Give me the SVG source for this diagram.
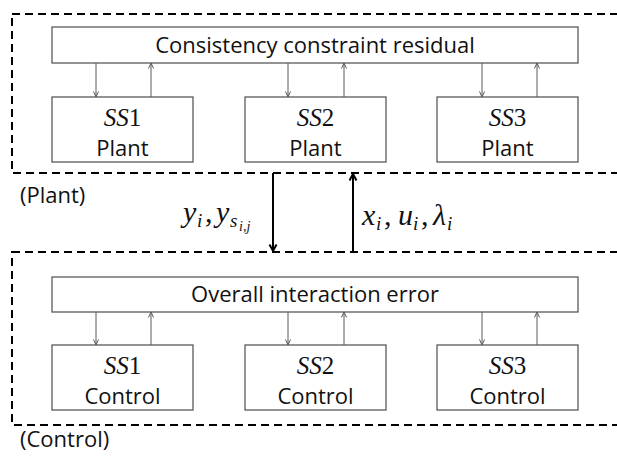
<svg xmlns="http://www.w3.org/2000/svg" width="617" height="457" viewBox="0 0 617 457">
<style>
.region{fill:none;stroke:#000;stroke-width:2;stroke-dasharray:8 5}
.box{fill:#fff;stroke:#5a5a5a;stroke-width:1.3}
.lbl{font-family:"Open Sans","Liberation Sans",sans-serif;font-size:22px;fill:#111;text-anchor:middle}
.side{font-family:"Open Sans","Liberation Sans",sans-serif;font-size:22px;fill:#111}
.ss{font-family:"Liberation Serif",serif;font-size:25px;fill:#111;text-anchor:middle}
.math{font-family:"Liberation Serif",serif;font-size:30px;font-style:italic;fill:#111}
.sub{font-size:19px}
.sub2{font-size:14px}
.thin{stroke:#5a5a5a;stroke-width:1;fill:none;marker-end:url(#ah)}
.bold{stroke:#000;stroke-width:2;fill:none;marker-end:url(#ahb)}
</style>
<defs>
<marker id="ah" markerWidth="8" markerHeight="8" refX="6" refY="3" orient="auto" markerUnits="userSpaceOnUse">
<path d="M0.5,0.5 L6,3 L0.5,5.5" fill="none" stroke="#5a5a5a" stroke-width="1"/>
</marker>
<marker id="ahb" markerWidth="10" markerHeight="10" refX="7.5" refY="4.5" orient="auto" markerUnits="userSpaceOnUse">
<path d="M1,1 L7.5,4.5 L1,8" fill="none" stroke="#000" stroke-width="2"/>
</marker>
</defs>

<g id="plant-region">
<rect class="region" x="12" y="14" width="640" height="159"/>
<text class="side" x="20" y="203">(Plant)</text>
</g>
<g id="control-region">
<rect class="region" x="12" y="252" width="640" height="173"/>
<text class="side" x="20" y="447">(Control)</text>
</g>

<g id="consistency">
<rect class="box" x="52" y="27" width="526" height="36"/>
<text class="lbl" x="315" y="53">Consistency constraint residual</text>
</g>
<g id="ss1-plant">
<rect class="box" x="52" y="97" width="141" height="65"/>
<text class="ss" x="122.5" y="126"><tspan font-style="italic">SS</tspan>1</text>
<text class="lbl" x="122.5" y="156">Plant</text>
</g>
<g id="ss2-plant">
<rect class="box" x="245" y="97" width="141" height="65"/>
<text class="ss" x="315.5" y="126"><tspan font-style="italic">SS</tspan>2</text>
<text class="lbl" x="315.5" y="156">Plant</text>
</g>
<g id="ss3-plant">
<rect class="box" x="437" y="97" width="141" height="65"/>
<text class="ss" x="507.5" y="126"><tspan font-style="italic">SS</tspan>3</text>
<text class="lbl" x="507.5" y="156">Plant</text>
</g>

<g id="interaction">
<rect class="box" x="52" y="277" width="526" height="35"/>
<text class="lbl" x="315" y="302">Overall interaction error</text>
</g>
<g id="ss1-control">
<rect class="box" x="52" y="345" width="141" height="65"/>
<text class="ss" x="122.5" y="374"><tspan font-style="italic">SS</tspan>1</text>
<text class="lbl" x="122.5" y="404">Control</text>
</g>
<g id="ss2-control">
<rect class="box" x="245" y="345" width="141" height="65"/>
<text class="ss" x="315.5" y="374"><tspan font-style="italic">SS</tspan>2</text>
<text class="lbl" x="315.5" y="404">Control</text>
</g>
<g id="ss3-control">
<rect class="box" x="437" y="345" width="141" height="65"/>
<text class="ss" x="507.5" y="374"><tspan font-style="italic">SS</tspan>3</text>
<text class="lbl" x="507.5" y="404">Control</text>
</g>

<g id="connectors">
<line class="thin" x1="96" y1="63" x2="96" y2="97"/>
<line class="thin" x1="151" y1="97" x2="151" y2="63"/>
<line class="thin" x1="288" y1="63" x2="288" y2="97"/>
<line class="thin" x1="344" y1="97" x2="344" y2="63"/>
<line class="thin" x1="482" y1="63" x2="482" y2="97"/>
<line class="thin" x1="537" y1="97" x2="537" y2="63"/>

<line class="thin" x1="96" y1="312" x2="96" y2="345"/>
<line class="thin" x1="151" y1="345" x2="151" y2="312"/>
<line class="thin" x1="288" y1="312" x2="288" y2="345"/>
<line class="thin" x1="344" y1="345" x2="344" y2="312"/>
<line class="thin" x1="482" y1="312" x2="482" y2="345"/>
<line class="thin" x1="537" y1="345" x2="537" y2="312"/>

<line class="bold" x1="273" y1="173" x2="273" y2="251"/>
<line class="bold" x1="353" y1="252" x2="353" y2="174"/>
</g>

<g id="labels">
<text class="math" y="222"><tspan x="183">y</tspan><tspan class="sub" x="197" dy="5">i</tspan><tspan x="205" dy="-5" font-style="normal">,</tspan><tspan x="216">y</tspan><tspan class="sub" x="230" dy="5">s</tspan><tspan class="sub2" x="239" dy="4">i,j</tspan></text>
<text class="math" y="225"><tspan x="362">x</tspan><tspan class="sub" x="376" dy="5">i</tspan><tspan x="384" dy="-5" font-style="normal">,</tspan><tspan x="398">u</tspan><tspan class="sub" x="413" dy="5">i</tspan><tspan x="421" dy="-5" font-style="normal">,</tspan><tspan x="433">λ</tspan><tspan class="sub" x="447" dy="5">i</tspan></text>
</g>
</svg>
